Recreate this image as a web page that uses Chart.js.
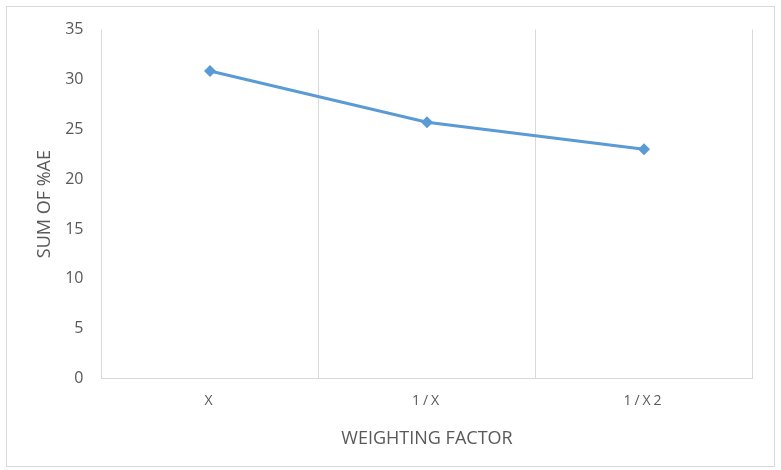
<!DOCTYPE html>
<html>
<head>
<meta charset="utf-8">
<script src="https://cdn.jsdelivr.net/npm/chart.js@4/dist/chart.umd.min.js"></script>
<style>
  html, body { margin: 0; padding: 0; background: #fff; }
  #wrap { position: relative; width: 781px; height: 470px; }
</style>
</head>
<body>
<div id="wrap"><canvas id="myChart" width="781" height="470"></canvas></div>
<script>
const categories = ['X', '1/X', '1/X2'];
const sumAE = [30.84, 25.7, 23.0];
const yTicks = [0, 5, 10, 15, 20, 25, 30, 35];

const textColor = '#595959';
const gridColor = '#d9d9d9';
const lineColor = '#5b9bd5';

// frame round the whole chart; the category labels get the wide office letter spacing
const framePlugin = {
    id: 'frame',
    beforeDraw(chart) {
        const ctx = chart.ctx;
        ctx.save();
        ctx.fillStyle = '#fff';
        ctx.fillRect(0, 0, chart.width, chart.height);
        ctx.strokeStyle = gridColor;
        ctx.lineWidth = 1;
        ctx.strokeRect(6.5, 6.5, 768, 460);
        ctx.restore();
    },
    afterLayout(chart) {
        const xs = chart.scales.x;
        if (xs && !xs._spaced) {
            const orig = xs.drawLabels;
            xs.drawLabels = function(area) {
                this.ctx.letterSpacing = '3px';
                orig.call(this, area);
                this.ctx.letterSpacing = '0px';
            };
            xs._spaced = true;
        }
    }
};

document.addEventListener('DOMContentLoaded', function() {
    const ctx = document.getElementById('myChart').getContext('2d');
    new Chart(ctx, {
        type: 'line',
        data: {
            labels: categories,
            datasets: [{
                label: 'Sum of %AE',
                data: sumAE,
                borderColor: lineColor,
                backgroundColor: lineColor,
                borderWidth: 3,
                pointStyle: 'rectRot',
                pointRadius: 6,
                pointBorderWidth: 0,
                tension: 0,
                fill: false
            }]
        },
        options: {
            responsive: false,
            animation: false,
            layout: {
                padding: { left: 6, right: 28.5, top: 29.5, bottom: 10 }
            },
            plugins: {
                legend: { display: false },
                tooltip: { enabled: false }
            },
            scales: {
                x: {
                    offset: true,
                    grid: { offset: true, color: gridColor, drawTicks: false },
                    border: { color: gridColor },
                    ticks: {
                        color: textColor,
                        padding: 14,
                        font: { family: 'Open Sans', size: 14 }
                    },
                    title: {
                        display: true,
                        text: 'WEIGHTING FACTOR',
                        color: textColor,
                        padding: { top: 10, bottom: 10 },
                        font: { family: 'Open Sans', size: 18 }
                    },
                    afterFit(scale) { scale.height = 81.3; }
                },
                y: {
                    min: 0,
                    max: 35,
                    afterBuildTicks(scale) {
                        scale.ticks = yTicks.map(v => ({ value: v }));
                    },
                    grid: { display: false, drawTicks: false },
                    border: { display: false },
                    ticks: {
                        color: textColor,
                        padding: 18,
                        font: { family: 'Open Sans', size: 16 }
                    },
                    title: {
                        display: true,
                        text: 'SUM OF %AE',
                        color: textColor,
                        padding: { top: 28, bottom: 4 },
                        font: { family: 'Open Sans', size: 18 }
                    },
                    afterFit(scale) { scale.width = 95.5; }
                }
            }
        },
        plugins: [framePlugin]
    });
});
</script>
</body>
</html>
